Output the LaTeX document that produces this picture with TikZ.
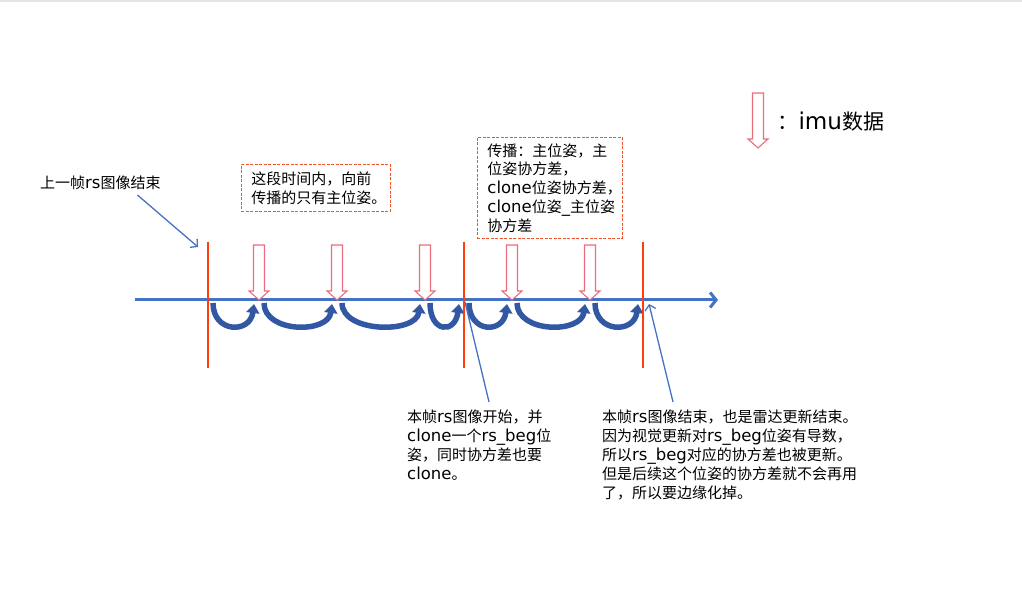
\documentclass[tikz,border=0pt]{standalone}
\usepackage{fontspec}
\setmainfont{Noto Sans CJK SC}
\newfontfamily\latnfont{DejaVu Sans}[Scale=1.1]
\newcommand{\latn}[1]{{\latnfont #1}}
\usetikzlibrary{arrows.meta,calc}
\definecolor{axisblue}{RGB}{68,114,196}
\definecolor{hopblue}{RGB}{50,88,163}
\definecolor{tickred}{RGB}{255,62,12}
\definecolor{boxred}{RGB}{240,84,44}
\definecolor{imured}{RGB}{236,108,124}
\tikzset{%
  note/.style = {font=\fontsize{15}{18.8}\selectfont, align=left, inner sep=0pt},
  dashbox/.style = {note, draw=boxred, dash pattern=on 3pt off 1.5pt,
      line width=0.9pt, anchor=north west, inner xsep=10pt,
      inner ysep=0pt},
  timeaxis/.style = {draw=axisblue, line width=3pt,
      -{Straight Barb[length=6pt,width=15pt]}},
  frameline/.style = {draw=tickred, line width=1.6pt},
  hop/.style = {draw=hopblue, line width=5.5pt,
      -{Triangle[width=13pt,length=9pt]}},
  pointer/.style = {draw=axisblue, line width=1.3pt},
  imuarrow/.style = {draw=imured, fill=white, line width=1.1pt},
  imu/.pic = {\path[imuarrow] (0,0) -- (-10,-9) -- (-5.5,-9) -- (-5.5,-55)
      -- (5.5,-55) -- (5.5,-9) -- (10,-9) -- cycle;},
}
\begin{document}
\begin{tikzpicture}[x=1pt, y=-1pt]
  \useasboundingbox (0,0) rectangle (1022,593);
  \fill[black!10] (0,0) rectangle (1022,2.5);
  % points on the time axis
  \coordinate (axisStart) at (135,300);
  \coordinate (axisEnd)   at (718,300);
  \coordinate (t0) at (208,300);
  \coordinate (i1) at (259,300);
  \coordinate (i2) at (337,300);
  \coordinate (i3) at (425,300);
  \coordinate (t1) at (464,300);
  \coordinate (i4) at (512,300);
  \coordinate (i5) at (590,300);
  \coordinate (t2) at (643,300);
  \draw[timeaxis] (axisStart) -- (axisEnd);
  % propagation steps
  \foreach \a/\b in {t0/i1, i1/i2, i2/i3, i3/t1, t1/i4, i4/i5, i5/t2}
    \draw[hop] ($(\a)+(5,3)$) .. controls +(0,30) and +(-4,30)
               .. ($(\b)+(-5,4)$);
  \foreach \t in {t0, t1, t2}
    \draw[frameline] ($(\t)+(0,-58)$) -- ($(\t)+(0,68)$);
  \foreach \i in {i1, i2, i3, i4, i5}
    \pic at (\i) {imu};
  % legend
  \pic at (758,148) {imu};
  \node (legendText) [anchor=base west, font=\fontsize{21}{25}\selectfont]
        at (774,130) {：\latn{imu}数据};
  % texts
  \node (prevEnd)   [note, anchor=base west] at (40,189)
                    {上一帧\latn{rs}图像结束};
  \node (mainOnly)  [dashbox, text width=129pt, minimum height=47pt]
                    at (241,164) {这段时间内，向前\\传播的只有主位姿。};
  \node (propBoth)  [dashbox, text width=125pt, minimum height=101pt]
                    at (477,137) {传播：主位姿，主\\位姿协方差，\\
                    \latn{clone}位姿协方差，\\\latn{clone}位姿\latn{\_}主位姿\\协方差};
  \node (beginNote) [note, anchor=north west] at (407,410)
                    {本帧\latn{rs}图像开始，并\\\latn{clone}一个\latn{rs\_beg}位\\
                    姿，同时协方差也要\\\latn{clone}。};
  \node (endNote)   [note, anchor=north west] at (602,410)
                    {本帧\latn{rs}图像结束，也是雷达更新结束。\\
                    因为视觉更新对\latn{rs\_beg}位姿有导数，\\
                    所以\latn{rs\_beg}对应的协方差也被更新。\\
                    但是后续这个位姿的协方差就不会再用\\了，所以要边缘化掉。};
  % pointers to the frame lines
  \coordinate (prevTip)  at (198,247);
  \coordinate (beginTip) at (465,302);
  \coordinate (endTip)   at (649,304);
  \draw[pointer, -{Straight Barb[length=5pt,width=11pt]}]
        ($(prevEnd.base)+(37,6)$) -- (prevTip);
  \draw[pointer] ($(beginNote.north west)+(82,-8)$) -- (beginTip);
  \draw[pointer, -{Straight Barb[length=5pt,width=11pt]}]
        ($(endNote.north west)+(71,-8)$) -- (endTip);
\end{tikzpicture}
\end{document}
